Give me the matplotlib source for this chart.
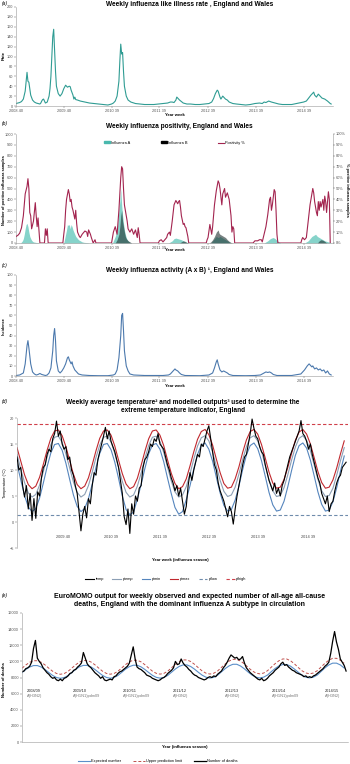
import matplotlib.pyplot as plt
from matplotlib.lines import Line2D
from matplotlib.patches import Patch

plt.rcParams['font.family'] = ['Liberation Sans', 'DejaVu Sans']

# ---------------- data ----------------
year_week_ticks = [0, 52, 104, 156, 209, 261, 313]
year_week_labels = ['2008 40', '2009 40', '2010 39', '2011 39', '2012 39', '2013 39', '2014 39']

# (a) ILI rate per 100,000 by week index (0 = 2008 week 40)
ili_weeks = [0, 2, 4, 6, 8, 10, 11, 12, 13, 14, 15, 16, 18, 20, 22, 24, 26, 27, 28, 29, 30, 31, 32, 34,
             36, 37, 38, 39, 40, 41, 42, 43, 44, 46, 48, 50, 52, 54, 55, 56, 58, 59, 60, 62, 63, 64, 65,
             67, 70, 75, 80, 85, 90, 95, 100, 104, 106, 108, 110, 112, 113, 114, 115, 116, 117, 118, 120,
             122, 125, 130, 135, 140, 145, 150, 155, 160, 165, 168, 170, 172, 174, 175, 176, 178, 180, 182,
             186, 190, 195, 200, 205, 210, 213, 215, 217, 219, 220, 222, 223, 225, 226, 228, 230, 232, 236,
             240, 245, 250, 255, 260, 265, 268, 270, 272, 275, 278, 282, 286, 290, 300, 305, 310, 313, 316,
             319, 321, 324, 325, 327, 329, 331, 333, 336, 339, 342, 343]
ili_rate = [5, 6, 7, 9, 14, 30, 50, 68, 50, 48, 35, 22, 12, 8, 6, 5, 4, 6, 10, 13, 14, 10, 6, 8,
            20, 35, 60, 100, 140, 155, 110, 70, 40, 25, 20, 25, 35, 42, 40, 38, 40, 39, 32, 22, 14, 18, 13,
            12, 10, 8, 6, 5, 4, 3, 2, 4, 6, 10, 20, 50, 90, 125, 105, 108, 70, 40, 20,
            12, 8, 5, 4, 3, 3, 3, 4, 5, 6, 8, 8, 7, 12, 18, 16, 12, 9, 6,
            4, 4, 3, 3, 4, 5, 8, 15, 25, 32, 30, 18, 14, 20, 18, 14, 12, 8, 5,
            4, 3, 2, 3, 5, 6, 5, 8, 7, 10, 8, 6, 4, 3, 3, 5, 7, 8, 10,
            17, 22, 28, 22, 18, 24, 20, 16, 14, 10, 5, 4]

# (b) positive samples (counts) and positivity (%)
flu_a_weeks = [5, 6, 7, 8, 9, 10, 11, 12, 13, 14, 15, 16, 17, 18, 19, 20, 22, 24, 26,
               52, 53, 54, 55, 56, 57, 58, 59, 60, 61, 62, 63, 64, 65, 66, 67, 68, 70, 72, 74, 78, 80,
               105, 106, 108, 110, 111, 112, 113, 114, 115, 116, 117, 118, 119, 120, 121, 122, 124, 126,
               166, 168, 170, 172, 174, 176, 178, 180, 182, 184, 186, 188,
               212, 214, 216, 218, 220, 222, 224, 226, 228, 230, 232, 234,
               270, 272, 274, 276, 278, 280, 282, 284, 286, 288,
               314, 316, 318, 320, 322, 324, 326, 328, 330, 332, 334, 336, 338, 340, 342, 343]
flu_a_counts = [0, 10, 20, 40, 80, 130, 170, 180, 150, 100, 60, 40, 25, 15, 10, 8, 5, 3, 0,
                0, 40, 80, 120, 170, 160, 170, 130, 170, 150, 120, 100, 80, 60, 50, 40, 30, 20, 10, 6, 3, 0,
                0, 20, 60, 120, 200, 300, 380, 500, 350, 250, 180, 120, 80, 50, 30, 20, 5, 0,
                0, 10, 20, 40, 45, 40, 35, 30, 20, 10, 5, 0,
                0, 20, 40, 60, 50, 60, 50, 40, 30, 20, 10, 0,
                0, 10, 20, 35, 45, 50, 40, 25, 10, 0,
                0, 10, 20, 40, 60, 70, 80, 60, 50, 40, 30, 20, 15, 10, 5, 0]
flu_b_weeks = [108, 110, 112, 113, 114, 115, 116, 117, 118, 119, 120, 122, 124, 126,
               178, 180, 182, 184, 186, 188,
               210, 212, 214, 216, 218, 220, 221, 222, 224, 226, 228, 230, 232, 234, 236,
               328, 330, 332, 334, 336, 338]
flu_b_counts = [0, 30, 80, 150, 250, 300, 200, 150, 100, 60, 40, 20, 10, 0,
                0, 10, 20, 15, 5, 0,
                0, 10, 30, 60, 100, 120, 90, 80, 70, 60, 50, 30, 15, 5, 0,
                0, 20, 30, 25, 15, 0]
pos_weeks = [0, 2, 4, 6, 8, 10, 12, 13, 14, 15, 16, 17, 19, 21, 22, 23, 24, 25, 26, 31, 32, 33, 34, 35,
             51, 52, 53, 54, 55, 57, 58, 59, 60, 61, 62, 64, 65, 66, 67, 69, 70, 72, 73, 75, 77, 78, 79,
             81, 82, 84, 86, 87,
             104, 105, 106, 108, 110, 112, 114, 115, 116, 117, 118, 120, 121, 122, 124, 126, 128, 130,
             132, 133, 134, 135,
             155, 156, 158, 160, 162, 164, 165, 167, 168, 170, 172, 174, 176, 177, 178, 179, 180, 182,
             183, 184, 185, 187, 188,
             207, 208, 209, 211, 213, 214, 216, 218, 220, 221, 222, 224, 225, 227, 228, 230, 232, 234,
             235, 236, 237, 238,
             258, 260, 263, 265, 267, 268, 270, 272, 274, 276, 277, 278, 279, 281, 282, 283, 284, 285,
             310, 311, 312, 314, 316, 318, 320, 322, 323, 324, 325, 327, 328, 329, 330, 331, 332, 334,
             335, 336, 337, 338, 340, 341, 342]
pos_pct = [6, 7, 9, 14, 25, 45, 52, 59, 50, 28, 25, 13, 20, 37, 25, 15, 23, 12, 0, 0, 13, 7, 13, 0,
           0, 8, 15, 30, 40, 49, 45, 38, 40, 33, 30, 22, 30, 18, 10, 6, 5, 8, 9, 11, 10, 6, 12,
           8, 5, 0, 3, 0,
           0, 5, 10, 15, 8, 30, 60, 70, 68, 50, 35, 25, 20, 13, 10, 13, 8, 12,
           5, 14, 8, 0,
           0, 2, 3, 1, 3, 5, 8, 10, 7, 20, 35, 39, 36, 38, 39, 33, 25, 17,
           18, 15, 14, 6, 0,
           0, 3, 5, 17, 8, 15, 35, 48, 57, 55, 50, 35, 45, 50, 42, 46, 40, 25,
           10, 15, 13, 0,
           0, 2, 2, 3, 3, 1, 8, 15, 26, 40, 42, 30, 35, 49, 47, 30, 8, 0,
           0, 3, 5, 3, 5, 20, 35, 45, 50, 46, 38, 28, 25, 38, 30, 38, 33, 40,
           30, 43, 38, 28, 47, 40, 0]

# (c) influenza activity index
act_weeks = [0, 4, 8, 10, 12, 13, 14, 16, 18, 20, 22, 24, 26, 28, 30, 32, 34, 36, 38, 40, 41, 42, 43, 44,
             46, 48, 50, 52, 54, 56, 57, 58, 60, 61, 62, 64, 66, 68, 72, 80, 90, 100, 106, 108, 110, 112,
             114, 115, 116, 117, 118, 120, 122, 124, 128, 140, 160, 166, 168, 170, 172, 173, 174, 176,
             178, 180, 184, 200, 210, 214, 216, 218, 219, 220, 222, 224, 226, 228, 230, 232, 236, 250,
             260, 266, 268, 270, 272, 274, 276, 278, 280, 284, 300, 310, 314, 317, 319, 320, 322, 323,
             325, 327, 329, 331, 333, 335, 337, 339, 341, 343]
act_value = [0.5, 1, 3, 12, 30, 35, 28, 12, 4, 2, 1, 1.5, 2.5, 1.5, 1, 0.5, 1, 3, 8, 25, 40, 47, 35, 15,
             5, 3, 5, 8, 12, 18, 19, 16, 12, 14, 10, 6, 4, 2, 1, 0.5, 0.3, 0.3, 1, 2, 6, 18,
             40, 60, 62, 45, 25, 10, 5, 2, 1, 0.5, 0.5, 1, 2, 4, 6, 7, 6, 5,
             3, 1.5, 0.5, 0.3, 1, 3, 8, 14, 16, 12, 6, 4, 5, 4, 3, 1.5, 0.5, 0.3,
             0.5, 1, 2, 3, 4, 3.5, 4, 3, 1.5, 0.5, 0.5, 2, 6, 10, 12, 11, 9, 10,
             7, 8, 6, 7, 5, 6, 3, 5, 2, 1]

# (d) weekly temperature (2-week steps from 2008 week 40) and modelled outputs (4-week steps)
temp = [12.5, 10.0, 10.5, 7.0, 4.8, 7.0, 2.5, 5.5, 0.3, 4.5, 0.7, 5.8, 5.0, 8.5, 10.5, 11.0, 13.0, 14.0,
        13.5, 16.0, 17.0, 19.4, 16.5, 17.5, 15.0, 14.0,
        14.5, 12.0, 12.5, 10.0, 9.0, 7.0, 5.5, 2.0, -1.7, 1.5, 3.0, 0.8, 4.5, 3.5, 7.0, 9.5, 9.0, 12.0,
        13.5, 15.0, 16.5, 18.2, 16.0, 17.5, 15.5, 14.5,
        13.5, 12.0, 10.5, 8.0, 5.5, 1.0, -0.5, 2.5, -2.2, 3.5, 1.5, 5.0, 4.0, 6.5, 7.0, 10.5, 12.0, 12.5,
        13.5, 15.0, 14.5, 16.0, 15.5, 17.0, 15.0, 14.5,
        14.0, 12.5, 11.0, 10.0, 8.5, 7.5, 6.0, 7.0, 5.0, 6.5, 4.0, 1.5, 3.0, 7.0, 9.5, 8.0, 10.0, 11.5,
        13.0, 12.5, 15.0, 14.5, 16.0, 17.5, 18.5, 16.0,
        13.5, 11.0, 10.0, 7.5, 6.0, 5.0, 4.0, 2.5, 1.0, 3.0, 2.0, -0.4, 2.5, 5.0, 7.0, 9.0, 11.0, 12.5,
        13.0, 15.0, 17.0, 19.8, 18.0, 16.5, 16.0, 14.5,
        13.5, 13.0, 11.0, 9.5, 8.0, 7.0, 6.0, 7.5, 5.5, 6.5, 5.0, 7.0, 8.0, 9.5, 11.0, 12.5, 13.5, 14.5,
        15.5, 16.5, 17.5, 19.5, 17.0, 16.5, 15.5, 14.0,
        15.0, 13.0, 11.5, 10.0, 8.5, 7.5, 5.5, 4.5, 3.5, 5.0, 2.0, 3.5, 4.0, 6.0, 7.5, 8.5, 9.0, 10.5,
        11.0, 11.5]
ptmax = [14.3, 11.7, 9.1, 7.2, 6.4, 6.9, 8.6, 11.1, 13.8, 16.1, 17.5, 17.7, 16.6,
         14.5, 11.8, 9.2, 7.2, 6.4, 6.9, 8.5, 11.0, 13.7, 16.1, 17.5, 17.7, 16.7,
         14.6, 11.9, 9.3, 7.3, 6.4, 6.8, 8.4, 10.9, 13.6, 16.0, 17.5, 17.7, 16.7,
         14.7, 12.0, 9.4, 7.4, 6.4, 6.8, 8.3, 10.8, 13.5, 15.9, 17.4, 17.8, 16.8,
         14.8, 12.1, 9.5, 7.4, 6.5, 6.7, 8.3, 10.6, 13.4, 15.8, 17.4, 17.8, 16.9,
         14.9, 12.3, 9.6, 7.5, 6.5, 6.7, 8.2, 10.5, 13.2, 15.7, 17.3, 17.8, 16.9,
         15.0, 12.4, 9.7, 7.6, 6.5, 6.7, 8.1, 10.4, 13.1, 15.6]
ptemp = [13.0, 10.2, 7.6, 5.6, 4.8, 5.3, 7.1, 9.7, 12.5, 14.9, 16.3, 16.5, 15.3,
         13.1, 10.4, 7.7, 5.7, 4.8, 5.3, 7.0, 9.6, 12.4, 14.8, 16.3, 16.5, 15.4,
         13.2, 10.5, 7.8, 5.7, 4.8, 5.2, 6.9, 9.4, 12.2, 14.7, 16.3, 16.5, 15.5,
         13.4, 10.6, 7.9, 5.8, 4.8, 5.2, 6.8, 9.3, 12.1, 14.6, 16.2, 16.6, 15.6,
         13.5, 10.7, 8.0, 5.9, 4.9, 5.2, 6.7, 9.2, 12.0, 14.5, 16.2, 16.6, 15.6,
         13.6, 10.9, 8.1, 6.0, 4.9, 5.1, 6.6, 9.1, 11.9, 14.4, 16.1, 16.6, 15.7,
         13.7, 11.0, 8.2, 6.0, 4.9, 5.1, 6.5, 9.0, 11.8, 14.3]
ptmin = [11.2, 8.1, 5.1, 2.9, 2.0, 2.6, 4.6, 7.5, 10.6, 13.3, 14.9, 15.1, 13.8,
         11.3, 8.2, 5.2, 3.0, 2.0, 2.6, 4.5, 7.3, 10.5, 13.2, 14.9, 15.1, 13.9,
         11.5, 8.4, 5.0, 2.4, 1.4, 1.9, 4.4, 7.2, 10.3, 13.1, 14.8, 15.1, 14.0,
         11.6, 8.5, 5.5, 2.8, 1.5, 2.0, 4.3, 7.0, 10.2, 13.0, 14.8, 15.2, 14.0,
         11.7, 8.6, 5.6, 3.2, 2.1, 2.4, 4.2, 6.9, 10.1, 12.9, 14.7, 15.2, 14.1,
         11.8, 8.8, 5.7, 3.3, 2.1, 2.3, 4.0, 6.8, 9.9, 12.8, 14.7, 15.2, 14.2,
         11.9, 8.9, 5.8, 3.4, 2.1, 2.3, 3.9, 6.6, 9.8, 12.7]
ptlow = 1.3
pthigh = 18.8
temp_tick_pos = [49, 100, 152, 204, 256, 309]
temp_tick_labels = ['2009 40', '2010 39', '2011 39', '2012 39', '2013 39', '2014 39']

# (e) EuroMOMO deaths (2-week steps) and baseline (4-week steps)
deaths = [8700, 8800, 9100, 9200, 9400, 9900, 11600, 12600, 10400, 10000, 9700, 9200, 8900, 8600, 8400,
          8100, 7900, 8000, 7700, 7600, 7800, 7600, 7900, 8000, 8200, 8500,
          8600, 8900, 9000, 9300, 9500, 9800, 11100, 10400, 9700, 9400, 9200, 8900, 8600, 8400, 8200,
          7900, 8100, 7700, 7600, 7700, 7800, 7700, 8100, 8200, 8500, 8700,
          8800, 9000, 9200, 9400, 9800, 10800, 11800, 10300, 9300, 9100, 9000, 8800, 8600, 8300, 8200,
          8100, 7900, 7800, 7700, 7600, 7700, 7900, 8000, 8200, 8500, 8700,
          8900, 9200, 10000, 9600, 9700, 10300, 9800, 9500, 9300, 9000, 8800, 8500, 8300, 8200, 8000,
          7900, 7800, 7700, 7800, 8000, 8100, 8000, 8200, 8100, 8400, 8600,
          8800, 9200, 9500, 9900, 10400, 10800, 10600, 10400, 10500, 10200, 10300, 10600, 9800, 9200,
          8900, 8600, 8400, 8200, 8000, 7800, 7700, 7900, 7600, 7700, 7900, 8200,
          8400, 8600, 8900, 9100, 9300, 9700, 9900, 9500, 9600, 9300, 9100, 8900, 8800, 8600, 8500,
          8400, 8300, 8100, 8200, 8000, 8100, 8000, 8200, 8300, 8500, 8700,
          8900, 9100, 9400, 9600, 9900, 11000, 12500, 13700, 12400, 11500, 10300, 9900, 9500, 8800]
expected = [8600, 9000, 9300, 9480, 9480, 9300, 8990, 8610, 8250, 8000, 7900, 7990, 8240,
            8620, 9020, 9330, 9500, 9500, 9310, 9000, 8620, 8260, 8010, 7910, 8000, 8250,
            8640, 9040, 9350, 9520, 9520, 9330, 9010, 8630, 8270, 8020, 7920, 8010, 8260,
            8660, 9060, 9380, 9560, 9560, 9360, 9030, 8640, 8280, 8030, 7930, 8020, 8280,
            8700, 9110, 9440, 9640, 9640, 9420, 9070, 8660, 8290, 8040, 7940, 8040, 8300,
            8720, 9120, 9440, 9610, 9610, 9410, 9060, 8660, 8290, 8040, 7950, 8050, 8310,
            8750, 9200, 9560, 9780, 9780, 9560, 9180]
upper_limit = [9150, 9550, 9890, 10080, 10080, 9890, 9560, 9150, 8770, 8500, 8400, 8490, 8760,
               9170, 9580, 9920, 10110, 10110, 9920, 9580, 9170, 8780, 8510, 8410, 8500, 8770,
               9190, 9600, 9950, 10140, 10140, 9950, 9600, 9180, 8790, 8520, 8420, 8510, 8790,
               9210, 9630, 9980, 10180, 10180, 9980, 9630, 9200, 8800, 8530, 8430, 8530, 8810,
               9250, 9680, 10040, 10250, 10250, 10040, 9680, 9230, 8820, 8550, 8450, 8550, 8840,
               9280, 9720, 10080, 10300, 10300, 10080, 9710, 9250, 8840, 8560, 8460, 8560, 8850,
               9310, 9770, 10140, 10380, 10380, 10140, 9760]
season_pos = [5, 53, 105, 157, 212, 261, 316]
season_names = ['2008/09', '2009/10', '2010/11', '2011/12', '2012/13', '2013/14', '2014/15']
season_subtypes = ['A(H3N2)', 'A(H1N1)pdm09', 'A(H1N1)pdm09', 'A(H3N2)', 'A(H3N2)',
                   'A(H1N1)pdm09', 'A(H3N2)']

temp_weeks = list(range(0, 2 * len(temp), 2))
model_weeks = list(range(0, 4 * len(ptmax), 4))
death_weeks = list(range(0, 2 * len(deaths), 2))
base_weeks = list(range(0, 4 * len(expected), 4))

# ---------------- figure ----------------
W, H = 350, 764
fig = plt.figure(figsize=(W / 100, H / 100), dpi=100)


def box(left, top, right, bottom):
    return [left / W, 1 - bottom / H, (right - left) / W, (bottom - top) / H]


def ftext(x, y, s, **kw):
    kw.setdefault('ha', 'center')
    kw.setdefault('va', 'center')
    return fig.text(x / W, 1 - y / H, s, **kw)


def style(ax):
    ax.tick_params(labelsize=2.8, length=1.2, width=0.3, pad=1, colors='#555555')
    for s in ax.spines.values():
        s.set_linewidth(0.4)
        s.set_color('#9a9a9a')
    ax.spines['top'].set_visible(False)
    ax.spines['right'].set_visible(False)


def week_axis(ax):
    ax.set_xlim(0, 345)
    ax.set_xticks(year_week_ticks)
    ax.set_xticklabels(year_week_labels)


TFS = 4.7

# (a)
ax_a = fig.add_axes(box(16, 7, 333, 106))
style(ax_a)
ax_a.plot(ili_weeks, ili_rate, color='#2f9c93', lw=0.8)
week_axis(ax_a)
ax_a.set_ylim(0, 200)
ax_a.set_yticks(range(0, 201, 20))
ftext(190, 5, 'Weekly influenza like illness rate , England and Wales', fontsize=TFS, weight='bold')
ftext(2, 4, '(a)', fontsize=3.6, style='italic', ha='left')
ftext(4, 56, 'Rate', fontsize=3, weight='bold', rotation=90)
ftext(175, 115, 'Year week', fontsize=3, weight='bold')

# (b)
ax_b = fig.add_axes(box(16, 134, 333, 243))
style(ax_b)
ax_b.spines['right'].set_visible(True)
ax_b.fill_between(flu_a_weeks, flu_a_counts, color='#86d3ca', lw=0)
ax_b.fill_between(flu_b_weeks, flu_b_counts, color='#1e2e2e', alpha=0.6, lw=0)
week_axis(ax_b)
ax_b.set_ylim(0, 1000)
ax_b.set_yticks(range(0, 1001, 100))
ax_b2 = ax_b.twinx()
ax_b2.plot(pos_weeks, pos_pct, color='#a3244f', lw=0.8)
ax_b2.set_ylim(0, 100)
ax_b2.set_yticks(range(0, 101, 10))
ax_b2.set_yticklabels([f'{v}%' for v in range(0, 101, 10)])
ax_b2.tick_params(labelsize=2.8, length=1.2, width=0.3, pad=1, colors='#555555')
for s in ax_b2.spines.values():
    s.set_visible(False)
ftext(179, 127, 'Weekly influenza positivity, England and Wales', fontsize=TFS, weight='bold')
ftext(2, 124, '(b)', fontsize=3.6, style='italic', ha='left')
ftext(4, 190, 'Number of positive influenza samples', fontsize=2.8, weight='bold', rotation=90)
ftext(347, 190, '% positive influenza samples', fontsize=2.8, weight='bold', rotation=270)
ftext(175, 250, 'Year week', fontsize=3, weight='bold')
ax_b.legend([Patch(color='#49b8ad'), Patch(color='black'), Line2D([], [], color='#a3244f', lw=0.8)],
            ['Influenza A', 'Influenza B', 'Positivity %'], ncol=3, frameon=False, fontsize=2.8,
            loc='center', bbox_to_anchor=(0.5, 0.92), handlelength=1.4, handleheight=0.4,
            columnspacing=8, handletextpad=0.3)

# (c)
ax_c = fig.add_axes(box(16, 275, 333, 376))
style(ax_c)
ax_c.plot(act_weeks, act_value, color='#4c79ad', lw=0.8)
week_axis(ax_c)
ax_c.set_ylim(0, 100)
ax_c.set_yticks(range(0, 101, 10))
ftext(190, 270, 'Weekly influenza activity (A x B) \u00b9, England and Wales', fontsize=TFS, weight='bold')
ftext(2, 265, '(c)', fontsize=3.6, style='italic', ha='left')
ftext(4, 326, 'Incidence', fontsize=2.8, weight='bold', rotation=90)
ftext(175, 386, 'Year week', fontsize=3, weight='bold')

# (d)
ax_d = fig.add_axes(box(17, 418, 348, 548))
style(ax_d)
ax_d.spines['bottom'].set_visible(False)
ax_d.plot(temp_weeks, temp, color='black', lw=0.8, zorder=3)
ax_d.plot(model_weeks, ptemp, color='#8c9fb5', lw=0.8)
ax_d.plot(model_weeks, ptmin, color='#5585bd', lw=0.8)
ax_d.plot(model_weeks, ptmax, color='#c0282e', lw=0.8)
ax_d.axhline(ptlow, color='#6f8cac', lw=0.8, ls=(0, (3, 2)))
ax_d.axhline(pthigh, color='#d0404a', lw=0.8, ls=(0, (3, 2)))
ax_d.set_xlim(0, 352)
ax_d.set_ylim(-5, 20)
ax_d.set_yticks(range(-5, 21, 5))
ax_d.set_xticks([])
for p, lab in zip(temp_tick_pos, temp_tick_labels):
    ax_d.text(p, -2.9, lab, fontsize=2.8, ha='center', va='center', color='#444444')
ftext(183, 403, 'Weekly average temperature\u00b2 and modelled outputs\u00b3 used to determine the',
      fontsize=TFS, weight='bold')
ftext(183, 411, 'extreme temperature indicator, England', fontsize=TFS, weight='bold')
ftext(2, 401, '(d)', fontsize=3.6, style='italic', ha='left')
ftext(5, 483, 'Temperature (\u00b0C)', fontsize=2.8, rotation=90)
ftext(180, 560, 'Year week (influenza season)', fontsize=3, weight='bold')
fig.legend([Line2D([], [], color='black', lw=0.8), Line2D([], [], color='#8c9fb5', lw=0.8),
            Line2D([], [], color='#5585bd', lw=0.8), Line2D([], [], color='#c0282e', lw=0.8),
            Line2D([], [], color='#6f8cac', lw=0.8, ls=(0, (3, 2))),
            Line2D([], [], color='#d0404a', lw=0.8, ls=(0, (3, 2)))],
           ['temp', 'ptemp', 'ptmin', 'ptmax', 'ptlow', 'pthigh'], ncol=6, frameon=False,
           fontsize=2.8, loc='center', bbox_to_anchor=(166 / W, 1 - 579 / H), handlelength=2.2,
           columnspacing=2.2, handletextpad=0.4)

# (e)
ax_e = fig.add_axes(box(22, 613, 348, 742))
style(ax_e)
ax_e.plot(base_weeks, expected, color='#5b8fc9', lw=0.8)
ax_e.plot(base_weeks, upper_limit, color='#c0504d', lw=0.7, ls=(0, (3, 2)))
ax_e.plot(death_weeks, deaths, color='black', lw=0.9)
ax_e.set_xlim(0, 340)
ax_e.set_ylim(0, 16000)
ax_e.set_yticks(range(0, 16001, 2000))
ax_e.set_xticks([])
for p, n, s in zip(season_pos, season_names, season_subtypes):
    ax_e.text(p, 6330, n, fontsize=2.8, ha='left', va='center', color='#222222')
    ax_e.text(p, 5700, s, fontsize=2.8, ha='left', va='center', color='#777777')
ftext(190, 597, 'EuroMOMO output for weekly observed and expected number of all-age all-cause',
      fontsize=5.0, weight='bold')
ftext(190, 605, 'deaths, England with the dominant influenza A subtype in circulation',
      fontsize=5.0, weight='bold')
ftext(2, 596, '(e)', fontsize=3.6, style='italic', ha='left')
ftext(4, 680, 'Number of deaths', fontsize=3, weight='bold', rotation=90)
ftext(185, 747, 'Year (influenza season)', fontsize=3, weight='bold')
fig.legend([Line2D([], [], color='#5b8fc9', lw=0.8),
            Line2D([], [], color='#c0504d', lw=0.7, ls=(0, (3, 2))),
            Line2D([], [], color='black', lw=0.9)],
           ['Expected number', 'Upper prediction limit', 'Number of deaths'], ncol=3, frameon=False,
           fontsize=2.8, loc='center', bbox_to_anchor=(158 / W, 1 - 761 / H), handlelength=3,
           columnspacing=3, handletextpad=0.4)

fig.savefig('out.png', dpi=100)
